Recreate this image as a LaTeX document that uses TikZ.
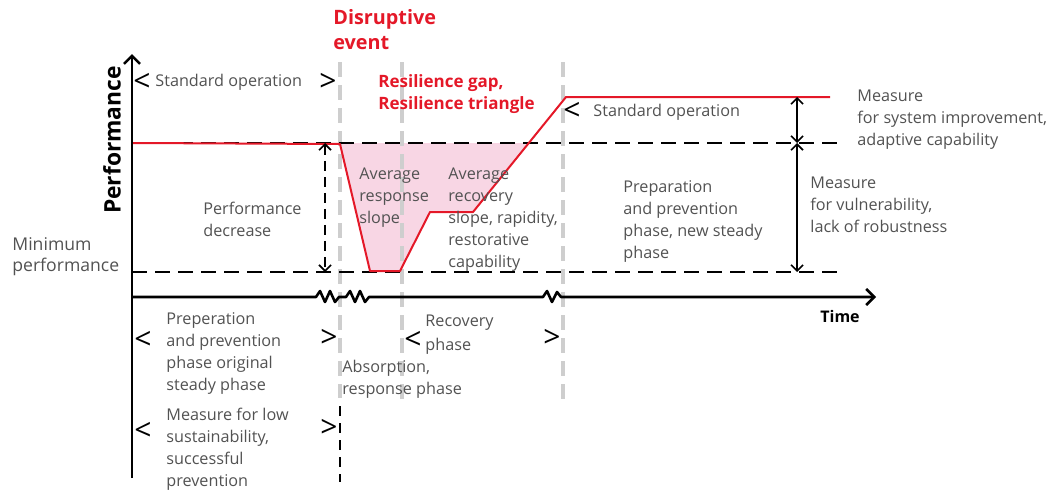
\documentclass[tikz,border=0pt]{standalone}
\usepackage{fontspec}
\setmainfont{Open Sans}
\usetikzlibrary{arrows.meta}
\usepackage{xcolor}

\definecolor{resred}{RGB}{228,24,40}
\definecolor{gappink}{RGB}{248,214,228}
\definecolor{txtgray}{RGB}{82,82,82}
\definecolor{phasegray}{RGB}{206,206,206}

\tikzset{
  axis/.style={line width=1.3pt,black,line join=round},
  level/.style={line width=1pt,black,dash pattern=on 7.5pt off 4pt},
  phase/.style={line width=2pt,phasegray,dash pattern=on 7.5pt off 4pt},
  perfline/.style={line width=1pt,resred,line join=round},
  span/.style={line width=0.8pt,{Straight Barb[length=3pt,width=6pt]}-{Straight Barb[length=3pt,width=6pt]}},
  note/.style={text=txtgray,align=left,anchor=west,inner sep=0pt,font=\fontsize{8.1}{11}\selectfont},
  hot/.style={text=resred,align=left,anchor=west,inner sep=0pt,font=\bfseries\fontsize{8.5}{11}\selectfont},
  bracket/.style={inner sep=0pt,font=\fontsize{15}{15}\selectfont},
}

\begin{document}
\begin{tikzpicture}[x=0.5pt,y=-0.5pt]
	\useasboundingbox (0,0) rectangle (1052,493);
	
	% Resilience gap between nominal level and the performance curve
	\fill[gappink] (340,143) -- (370,271) -- (400,271) -- (430,212) -- (473,212) -- (528,143) -- cycle;
	
	% Phase borders
	\draw[phase] (340,62) -- (340,398);
	\draw[phase] (402,62) -- (402,406);
	\draw[phase] (563,62) -- (563,406);
	\draw[level,dash pattern=on 5pt off 3.5pt] (340,406) -- (340,482);
	
	% Nominal and minimum performance levels
	\coordinate (nomL) at (132,143);
	\coordinate (nomR) at (837,143);
	\coordinate (minL) at (132,272);
	\coordinate (minR) at (837,272);
	\draw[level] (nomL) -- (nomR);
	\draw[level] (minL) -- (minR);
	
	% Axes
	\coordinate (origin) at (132,297);
	\coordinate (ytop) at (132,54);
	\coordinate (ybot) at (132,478);
	\coordinate (xend) at (876,297);
	\draw[axis,-{Straight Barb[length=4pt,width=8pt]}] (ybot) -- (ytop);
	\draw[axis,-{Straight Barb[length=4pt,width=8pt]}] (origin) -- (316,297)
		-- (320,291) -- (325,302) -- (330,291) -- (335,302) -- (339,297)
		-- (346,297) -- (350,291) -- (355,302) -- (360,291) -- (365,302) -- (369,297)
		-- (543,297) -- (547,291) -- (552,302) -- (557,292) -- (561,297) -- (xend);
	\node[font=\bfseries\fontsize{11.4}{12}\selectfont,rotate=90] (yaxis) at (112,140) {Performance};
	\node[font=\bfseries\fontsize{8}{10}\selectfont] (xaxis) at (840,316) {Time};
	
	% Performance curve
	\draw[perfline] (133,143) -- (340,144) -- (370,271) -- (400,271) -- (430,212)
		-- (473,212) -- (566,97) -- (830,97);
	
	% Measures
	\coordinate (dropT) at (325,143);
	\coordinate (dropB) at (325,272);
	\draw[span,dash pattern=on 5pt off 3pt] (dropT) -- (dropB);
	\coordinate (upT) at (797,97);
	\coordinate (upM) at (797,143);
	\coordinate (upB) at (797,272);
	\draw[span] (upT) -- (upM);
	\draw[span] (upM) -- (upB);
	
	% Phase brackets
	\foreach \x/\y/\s in {142/82/<, 328/82/>, 572/111/<, 143/340/<, 329/338/>,
		413/340/<, 552/338/>, 143/431/<, 329/428/>} {
		\node[bracket] at (\x,\y) {\s};
	}
	
	% Labels
	\node[hot,font=\bfseries\fontsize{9.9}{12.5}\selectfont] (event) at (333,30) {Disruptive\\event};
	\node[hot] (gap) at (378,94) {Resilience gap,\\Resilience triangle};
	\node[note] (stdop) at (155,82) {Standard operation};
	\node[note] (stdopnew) at (593,112) {Standard operation};
	\node[note] (improve) at (857,120) {Measure\\for system improvement,\\adaptive capability};
	\node[note] (vuln) at (810,205) {Measure\\for vulnerability,\\lack of robustness};
	\node[note] (newsteady) at (623,221) {Preparation\\and prevention\\phase, new steady\\phase};
	\node[note] (decrease) at (203,219) {Performance\\decrease};
	\node[note,font=\fontsize{8.8}{10.5}\selectfont] (minperf) at (12,257) {Minimum\\performance};
	\node[note] (respslope) at (359,198) {Average\\response\\slope};
	\node[note] (recslope) at (448,220) {Average\\recovery\\slope, rapidity,\\restorative\\capability};
	\node[note] (prep) at (166,353) {Preperation\\and prevention\\phase original\\steady phase};
	\node[note] (lowsus) at (166,449) {Measure for low\\sustainability,\\successful\\prevention};
	\node[note,font=\fontsize{8.1}{12}\selectfont] (recphase) at (425,335) {Recovery\\phase};
	\node[note] (absorb) at (342,379) {Absorption,\\response phase};
\end{tikzpicture}
\end{document}
